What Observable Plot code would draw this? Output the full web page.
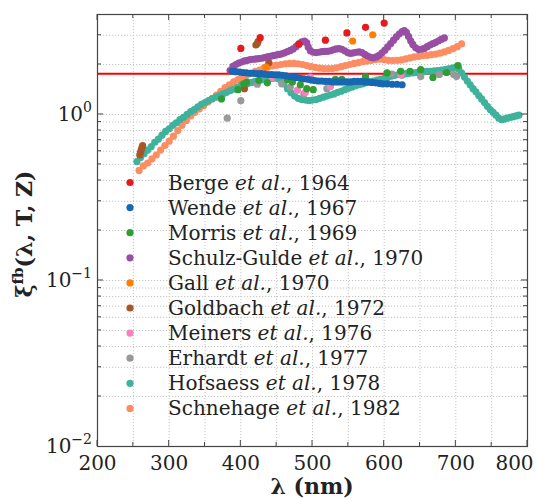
<!DOCTYPE html>
<html><head><meta charset="utf-8">
<script src="https://cdn.jsdelivr.net/npm/d3@7"></script>
<script src="https://cdn.jsdelivr.net/npm/@observablehq/plot@0.6"></script>
<style>body{margin:0;background:#fff} svg{display:block} svg text{font-family:"DejaVu Serif", serif}</style>
</head><body><div id="chart"></div>
<script>
// ---- data ----
const seriesNames = ["Berge", "Wende", "Morris", "Schulz-Gulde", "Gall", "Goldbach", "Meiners", "Erhardt", "Hofsaess", "Schnehage"];
const seriesYears = ["1964", "1967", "1969", "1970", "1970", "1972", "1976", "1977", "1978", "1982"];
const seriesColors = ["#e41a1c", "#1767b2", "#2e9e34", "#984ea3", "#ff7f00", "#a65628", "#f781bf", "#999999", "#3fb29c", "#fc8d62"];

const berge = [[400,2.5],[427,2.9],[481,2.65],[518,2.8],[548,3.1],[574,3.35],[600,3.55]];
const wende = [[388,1.82],[393,1.81],[398,1.80],[403,1.79],[408,1.78],[413,1.77],[418,1.77],[423,1.76],[428,1.76],[433,1.75],[438,1.74],[443,1.74],[448,1.73],[453,1.73],[458,1.72],[463,1.71],[468,1.69],[473,1.68],[478,1.67],[483,1.65],[488,1.64],[493,1.63],[498,1.61],[503,1.60],[508,1.59],[513,1.59],[518,1.58],[523,1.58],[528,1.57],[533,1.57],[538,1.57],[543,1.57],[548,1.57],[553,1.57],[558,1.58],[563,1.58],[568,1.58],[573,1.57],[578,1.57],[583,1.56],[588,1.55],[593,1.54],[598,1.53],[604,1.53],[611,1.52],[618,1.52],[625,1.51]];
const morris = [[373,1.24],[396,1.41],[404,1.53],[408,1.56],[425,1.60],[437,1.55],[465,1.62],[472,1.57],[483,1.51],[492,1.43],[501,1.41],[532,1.63],[541,1.63],[574,1.69],[604,1.78],[623,1.82],[636,1.82],[651,1.86],[668,1.67],[687,1.79],[703,1.97]];
const schulzGulde = [[385,1.84],[389,1.95],[393,2.0],[397,2.04],[401,2.07],[405,2.1],[409,2.12],[413,2.14],[417,2.15],[421,2.16],[425,2.17],[429,2.18],[433,2.2],[437,2.22],[441,2.24],[445,2.26],[449,2.28],[453,2.3],[457,2.32],[461,2.35],[465,2.39],[469,2.43],[473,2.48],[477,2.56],[481,2.66],[485,2.74],[489,2.77],[492,2.7],[494,2.55],[497,2.42],[501,2.37],[505,2.36],[509,2.37],[513,2.39],[517,2.4],[521,2.4],[525,2.42],[529,2.45],[533,2.48],[537,2.49],[541,2.47],[545,2.42],[549,2.36],[553,2.33],[557,2.35],[561,2.37],[565,2.38],[569,2.36],[573,2.3],[577,2.25],[581,2.21],[585,2.19],[589,2.22],[593,2.27],[597,2.35],[601,2.44],[605,2.55],[609,2.67],[613,2.8],[617,2.93],[621,3.05],[625,3.15],[628,3.2],[631,3.12],[634,2.95],[637,2.78],[640,2.64],[644,2.52],[648,2.46],[652,2.47],[656,2.5],[660,2.56],[664,2.62],[668,2.67],[672,2.72],[676,2.78],[680,2.84],[684,2.89]];
const gall = [[435,1.93],[556,2.77],[584,3.02]];
const goldbach = [[259,0.57],[260,0.59],[261,0.61],[262,0.63],[263,0.65],[405,1.43],[421,2.62],[423,2.68],[424,2.75],[439,2.05]];
const meiners = [[444,1.67],[479,1.40],[490,1.36],[497,1.68],[525,1.47],[623,1.73]];
const erhardt = [[381,0.95],[400,1.21],[409,1.57],[423,1.52],[457,1.53],[469,1.46],[488,1.33],[520,1.43],[611,1.75],[625,1.72],[651,1.69],[677,1.74],[697,1.74],[701,1.69]];
const hofsaess = [[255,0.52],[260,0.55],[265,0.58],[270,0.61],[275,0.64],[280,0.68],[285,0.71],[290,0.75],[295,0.79],[300,0.82],[305,0.86],[310,0.89],[315,0.93],[320,0.96],[325,1.0],[330,1.04],[335,1.07],[340,1.11],[345,1.15],[350,1.18],[355,1.21],[360,1.24],[365,1.27],[370,1.30],[375,1.33],[380,1.36],[385,1.39],[390,1.42],[395,1.45],[400,1.49],[405,1.52],[410,1.54],[415,1.56],[420,1.58],[425,1.60],[430,1.62],[435,1.63],[440,1.64],[445,1.65],[450,1.65],[455,1.62],[460,1.53],[465,1.43],[470,1.35],[475,1.29],[480,1.25],[485,1.23],[490,1.22],[495,1.21],[500,1.22],[505,1.23],[510,1.25],[515,1.27],[520,1.29],[525,1.31],[530,1.33],[535,1.36],[540,1.38],[545,1.41],[550,1.44],[555,1.46],[560,1.49],[565,1.51],[570,1.53],[575,1.55],[580,1.57],[585,1.59],[590,1.61],[595,1.63],[600,1.65],[605,1.67],[610,1.70],[615,1.72],[620,1.74],[625,1.75],[630,1.76],[635,1.77],[640,1.78],[645,1.79],[650,1.80],[655,1.81],[660,1.82],[665,1.82],[670,1.83],[675,1.84],[680,1.85],[685,1.86],[690,1.88],[695,1.90],[700,1.93],[704,1.88],[708,1.78],[712,1.68],[716,1.59],[720,1.51],[724,1.43],[728,1.37],[732,1.30],[736,1.24],[740,1.18],[744,1.12],[748,1.07],[752,1.03],[756,0.99],[760,0.95],[764,0.93],[768,0.94],[772,0.95],[776,0.96],[780,0.97],[784,0.98],[788,0.99]];
const schnehage = [[258,0.46],[264,0.49],[270,0.51],[276,0.54],[282,0.57],[288,0.61],[294,0.65],[300,0.69],[306,0.74],[312,0.80],[318,0.86],[324,0.92],[330,0.98],[336,1.03],[342,1.08],[348,1.13],[354,1.19],[360,1.25],[366,1.31],[372,1.38],[378,1.45],[384,1.51],[390,1.57],[396,1.62],[402,1.67],[408,1.72],[414,1.77],[420,1.82],[426,1.85],[432,1.90],[438,1.93],[444,1.96],[450,1.98],[456,2.0],[462,2.02],[468,2.03],[474,2.03],[480,2.02],[486,2.0],[492,1.97],[498,1.94],[504,1.92],[510,1.90],[516,1.89],[522,1.89],[528,1.89],[534,1.91],[540,1.94],[546,1.97],[552,2.0],[558,2.03],[564,2.05],[570,2.08],[576,2.10],[582,2.12],[588,2.14],[594,2.15],[600,2.14],[606,2.12],[612,2.11],[618,2.12],[624,2.13],[630,2.16],[636,2.19],[642,2.22],[648,2.24],[654,2.26],[660,2.27],[666,2.29],[672,2.31],[678,2.34],[684,2.38],[690,2.43],[696,2.49],[702,2.56],[708,2.66]];

const seriesData = [berge, wende, morris, schulzGulde, gall, goldbach, meiners, erhardt, hofsaess, schnehage];

const xTicks = [200, 300, 400, 500, 600, 700, 800];
const xMinor = [250, 300, 350, 400, 450, 500, 550, 600, 650, 700, 750];
const yTicks = [0.01, 0.1, 1];
const yTickExp = ["−2", "−1", "0"];
const yMinor = [0.02,0.03,0.04,0.05,0.06,0.07,0.08,0.09,0.1,0.2,0.3,0.4,0.5,0.6,0.7,0.8,0.9,1,2,3];
const refLevel = 1.76;
const font = "'DejaVu Serif', serif";

// ---- plot ----
const order = d3.range(seriesData.length).reverse();
const plot = Plot.plot({
  width: 536, height: 499,
  marginLeft: 97, marginRight: 9, marginTop: 14, marginBottom: 53,
  style: {fontFamily: font, fontSize: "20px", color: "#222", background: "white", overflow: "visible"},
  x: {domain: [200, 800]},
  y: {type: "log", domain: [0.01, 4], axis: null},
  marks: [
    Plot.gridX(xMinor, {stroke: "#c4c4c4", strokeOpacity: 1, strokeDasharray: "1.2,1.8"}),
    Plot.gridY(yMinor, {stroke: "#c4c4c4", strokeOpacity: 1, strokeDasharray: "1.2,1.8"}),
    Plot.ruleY([refLevel], {stroke: "#ff0000", strokeWidth: 2}),
    ...order.map(i => Plot.dot(seriesData[i], {x: d => d[0], y: d => d[1], fill: seriesColors[i], r: 3.6})),
    Plot.frame({stroke: "#444", strokeWidth: 1.2}),
    Plot.axisX(xTicks, {tickSize: 0, tickPadding: 9, label: null, fontSize: 20, fill: "#222"})
  ]
});
document.getElementById("chart").appendChild(plot);

// ---- decorations via the plot's own scales ----
const svg = d3.select(plot);
const xs = plot.scale("x"), ys = plot.scale("y");
const [L, R] = xs.range, [B, T] = ys.range;
// keep the last x tick label inside the picture, as in the reference
const xLabels = svg.selectAll('g[aria-label="x-axis tick label"] text').nodes();
if (xLabels.length) d3.select(xLabels[xLabels.length - 1]).attr("dx", -13);

const tg = svg.append("g").attr("stroke", "#444").attr("stroke-width", 1);
for (const v of xMinor.concat([200, 800])) {
  const px = xs.apply(v), len = v % 100 === 0 ? 6 : 4;
  tg.append("line").attr("x1", px).attr("x2", px).attr("y1", B).attr("y2", B - len);
  tg.append("line").attr("x1", px).attr("x2", px).attr("y1", T).attr("y2", T + len);
}
for (const v of yMinor) {
  const py = ys.apply(v), len = yTicks.includes(v) ? 6 : 4;
  tg.append("line").attr("x1", L).attr("x2", L + len).attr("y1", py).attr("y2", py);
  tg.append("line").attr("x1", R).attr("x2", R - len).attr("y1", py).attr("y2", py);
}
// y tick labels
yTicks.forEach((v, i) => {
  const t = svg.append("text").attr("x", L - 5).attr("y", ys.apply(v) + 7)
    .attr("text-anchor", "end").attr("font-size", 20).attr("fill", "#222");
  t.append("tspan").text("10");
  t.append("tspan").attr("font-size", 14).attr("dy", -9).text(yTickExp[i]);
});
// legend
seriesNames.forEach((name, i) => {
  const y = 182.5 + i * 25.1;
  svg.append("circle").attr("cx", 130).attr("cy", y).attr("r", 3.6).attr("fill", seriesColors[i]);
  const t = svg.append("text").attr("x", 168).attr("y", y + 7).attr("text-anchor", "start")
    .attr("font-size", 20).attr("fill", "#222");
  t.append("tspan").text(name + " ");
  t.append("tspan").attr("font-style", "italic").text("et al.");
  t.append("tspan").text(", " + seriesYears[i]);
});
// axis labels
svg.append("text").attr("x", (L + R) / 2).attr("y", 494).attr("text-anchor", "middle")
  .attr("font-size", 22).attr("font-weight", "bold").attr("fill", "#222")
  .text("λ (nm)");
const yl = svg.append("text").attr("transform", `translate(32,${(T + B) / 2 + 4}) rotate(-90)`)
  .attr("text-anchor", "middle").attr("font-size", 22)
  .attr("font-weight", "bold").attr("fill", "#222");
yl.append("tspan").text("ξ");
yl.append("tspan").attr("font-size", 15).attr("dy", -9).text("fb");
yl.append("tspan").attr("dy", 9).text("(λ, T, Z)");
</script>
</body></html>
